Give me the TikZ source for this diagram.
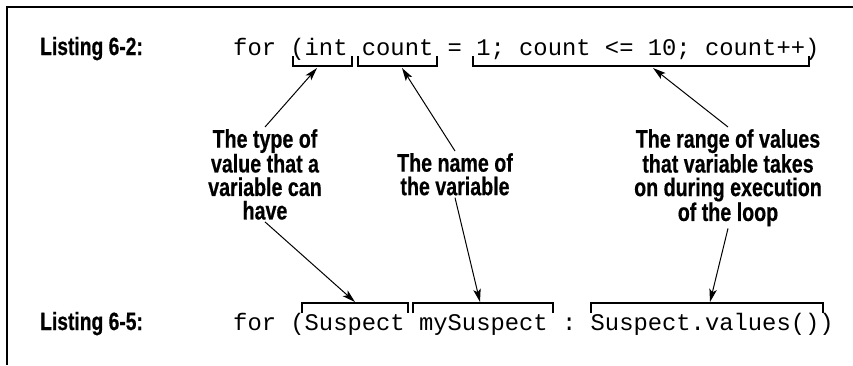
\documentclass[tikz,border=0pt]{standalone}
\usepackage{fontspec}
\setmonofont{Liberation Mono}
\newfontfamily\condbold[FakeStretch=0.77,FakeBold=0.5]{Liberation Sans Bold}
\usetikzlibrary{arrows.meta}
\tikzset{
  codetext/.style={anchor=base west, inner sep=0pt, font=\ttfamily\fontsize{23.83}{28}\selectfont},
  listlabel/.style={anchor=base west, inner sep=0pt, font=\condbold\fontsize{25}{26}\selectfont},
  note/.style={anchor=north, inner sep=2pt, align=center, font=\condbold\fontsize{25.5}{23.5}\selectfont},
  bracketline/.style={line width=1.3pt},
  pointer/.style={line width=1pt, -{Stealth[length=13pt,width=7.5pt,inset=3pt]}},
  frameline/.style={line width=1.5pt}
}
\begin{document}
\begin{tikzpicture}[x=1pt,y=-1pt]
\useasboundingbox (0,0) rectangle (853,365);
\draw[frameline] (853,7) -- (7,7) -- (7,365);

\node[listlabel] (l62) at (40,55) {Listing 6-2:};
\node[codetext] (code62) at (233,55) {for (int count = 1; count <= 10; count++)};
\node[listlabel] (l65) at (40,330) {Listing 6-5:};
\node[codetext] (code65) at (233,330) {for (Suspect mySuspect : Suspect.values())};

% top brackets
\draw[bracketline] (293,56) -- (293,66) -- (352,66) -- (352,56);
\draw[bracketline] (358,56) -- (358,66) -- (437,66) -- (437,56);
\draw[bracketline] (473,56) -- (473,66) -- (809,66) -- (809,56);
% bottom brackets
\draw[bracketline] (302,313) -- (302,303) -- (408,303) -- (408,313);
\draw[bracketline] (413,313) -- (413,303) -- (553,303) -- (553,313);
\draw[bracketline] (591,313) -- (591,303) -- (823,303) -- (823,313);

\coordinate (t1) at (317,68);
\coordinate (t2) at (402,68);
\coordinate (t3) at (653,68);
\coordinate (b1) at (355,302);
\coordinate (b2) at (480,302);
\coordinate (b3) at (710,302);

\node[note] (n1) at (265,127) {The type of\\value that a\\variable can\\have};
\node[note] (n2) at (455,151) {The name of\\the variable};
\node[note] (n3) at (728,127) {The range of values\\that variable takes\\on during execution\\of the loop};

\draw[pointer] (n1.north) -- (t1);
\draw[pointer] (n2.north) -- (t2);
\draw[pointer] (n3.north) -- (t3);
\draw[pointer] (n1.south) -- (b1);
\draw[pointer] (n2.south) -- (b2);
\draw[pointer] (n3.south) -- (b3);
\end{tikzpicture}
\end{document}
